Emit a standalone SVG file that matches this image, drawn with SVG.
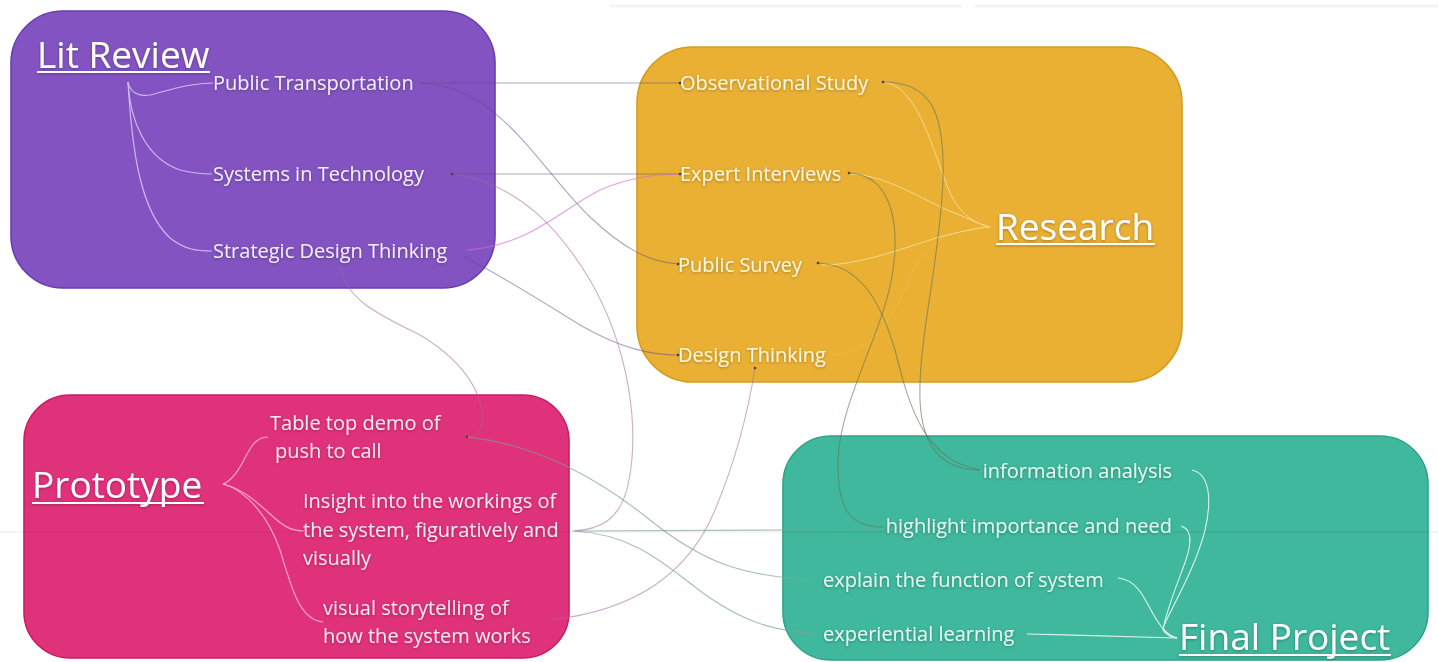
<svg xmlns="http://www.w3.org/2000/svg" width="1438" height="662" viewBox="0 0 1438 662">
  <defs>
    <filter id="glow" x="-10%" y="-40%" width="120%" height="180%">
      <feDropShadow dx="0" dy="1" stdDeviation="1.4" flood-color="#000" flood-opacity="0.3"/>
    </filter>
    <style>
      text { font-family: "Open Sans", "Noto Sans", "DejaVu Sans", sans-serif; }
      .title { font-size: 37px; fill: #ffffff; }
      .item { font-size: 20px; }
      .box { stroke-width: 1.6; }
      .ul { stroke: #ffffff; stroke-width: 2; }
      .lit-t { fill: #f4eefc; }
      .res-t { fill: #fff7de; }
      .pro-t { fill: #fde8f1; }
      .fin-t { fill: #e8f8f3; }
      .c { fill: none; stroke-width: 1.1; }
      .c-lit { stroke: #cfb8f3; stroke-width: 1.2; }
      .c-res { stroke: #f7da8e; stroke-width: 1; }
      .c-pro { stroke: #f8a5cb; stroke-width: 1.2; }
      .c-fin { stroke: #d8f4ea; stroke-width: 1.1; }
      .c-purple { stroke: #5e4b86; stroke-opacity: 0.5; }
      .c-magenta { stroke: #d96ad6; stroke-opacity: 0.65; }
      .c-mauve { stroke: #a06a9c; stroke-opacity: 0.55; }
      .c-sage { stroke: #7ea494; stroke-opacity: 0.7; }
      .c-olive { stroke: #5e7654; stroke-opacity: 0.6; }
      .dot { fill: #4f3f35; }
    </style>
  </defs>

  <rect width="1438" height="662" fill="#ffffff"/>
  <!-- faint page edge at the top -->
  <line x1="610" y1="6" x2="962" y2="6" stroke="#f5f5f5" stroke-width="3"/>
  <line x1="975" y1="6" x2="1438" y2="6" stroke="#f5f5f5" stroke-width="3"/>

  <!-- node boxes -->
  <g id="lit-review-box">
    <rect class="box" x="11" y="11" width="484" height="277" rx="52" fill="#8354c1" stroke="#6a3cb2"/>
  </g>
  <g id="research-box">
    <rect class="box" x="637" y="47" width="545" height="335" rx="56" fill="#e9b034" stroke="#d49d20"/>
  </g>
  <g id="prototype-box">
    <rect class="box" x="24" y="395" width="545" height="263" rx="46" fill="#e0327b" stroke="#c81d63"/>
  </g>
  <g id="final-project-box">
    <rect class="box" x="783" y="436" width="645" height="224" rx="48" fill="#3fb89d" stroke="#2fa487"/>
  </g>

  <!-- connectors -->
  <g id="connectors">
    <!-- Lit Review branches -->
    <path class="c c-lit" d="M128,82 C130,92 138,97 150,95 C170,90 190,83 213,83"/>
    <path class="c c-lit" d="M128,82 C130,120 145,158 180,170 C192,173 200,174 212,174"/>
    <path class="c c-lit" d="M128,82 C132,150 140,210 170,238 C185,250 198,251 212,251"/>

    <!-- Research branches -->
    <path class="c c-res" d="M883,82 C915,85 930,140 945,180 C955,210 970,222 990,227"/>
    <path class="c c-res" d="M850,174 C890,175 930,205 960,215 C975,222 985,226 990,227"/>
    <path class="c c-res" d="M822,265 C870,265 920,240 960,232 C975,229 985,227 990,227"/>
    <path class="c c-res" stroke-opacity="0.2" d="M833,355 C880,352 898,305 912,272 C930,235 965,228 990,227"/>

    <!-- Prototype branches -->
    <path class="c c-pro" d="M223,484 C238,478 245,455 252,446 C257,439 262,437 268,437"/>
    <path class="c c-pro" d="M223,484 C240,488 255,500 270,514 C282,525 290,531 304,531"/>
    <path class="c c-pro" d="M223,484 C245,490 268,515 280,550 C292,590 300,620 323,622"/>

    <!-- Final Project branches -->
    <path class="c c-fin" d="M1192,470 C1210,474 1212,500 1205,530 C1195,570 1170,610 1163,628 C1166,634 1170,637 1177,638"/>
    <path class="c c-fin" d="M1181,526 C1195,530 1190,550 1183,568 C1174,592 1166,612 1163,630 C1166,635 1171,637 1177,638"/>
    <path class="c c-fin" d="M1118,578 C1138,580 1145,600 1152,612 C1160,626 1166,635 1177,638"/>
    <path class="c c-fin" d="M1027,634 C1080,635 1140,637 1177,638"/>

    <!-- Lit Review to Research -->
    <path class="c c-purple" d="M420,83 C550,83 560,83 680,83"/>
    <path class="c c-purple" d="M420,83 C500,85 540,170 590,217 C625,250 650,262 678,264"/>
    <path class="c c-purple" d="M452,174 C560,174 580,174 680,174"/>
    <path class="c c-purple" d="M463,256 C500,275 540,300 580,325 C620,348 650,355 678,355"/>
    <path class="c c-magenta" d="M467,250 C530,245 560,210 600,190 C630,177 655,174 680,174"/>

    <!-- Lit Review to Prototype -->
    <path class="c c-mauve" d="M455,174 C520,185 560,230 590,280 C630,350 640,430 628,485 C620,520 600,530 572,531"/>
    <path class="c c-mauve" d="M340,265 C345,300 380,315 420,335 C470,365 485,400 482,425 C480,436 472,437 467,437"/>

    <!-- Prototype to Research -->
    <path class="c c-mauve" d="M550,620 C640,610 690,570 715,510 C740,450 750,400 755,368"/>

    <!-- Prototype to Final Project -->
    <path class="c c-sage" d="M467,437 C540,445 600,480 650,520 C700,560 740,578 823,580"/>
    <path class="c c-sage" stroke-opacity="0.45" d="M575,531 C700,531 780,530 884,529"/>
    <path class="c c-sage" d="M575,531 C640,535 670,570 710,598 C750,625 780,632 823,634"/>

    <!-- Research to Final Project -->
    <path class="c c-olive" d="M883,82 C930,82 945,110 943,180 C940,260 918,340 920,400 C922,450 945,470 980,470"/>
    <path class="c c-olive" d="M849,173 C890,175 900,220 893,270 C885,330 840,400 838,460 C837,510 850,527 883,527"/>
    <path class="c c-olive" d="M818,263 C860,265 880,300 895,350 C910,410 925,460 980,470"/>

    <!-- endpoint dots -->
    <circle class="dot" cx="680" cy="83" r="1.3"/>
    <circle class="dot" cx="680" cy="174" r="1.3"/>
    <circle class="dot" cx="678" cy="264" r="1.3"/>
    <circle class="dot" cx="678" cy="355" r="1.3"/>
    <circle class="dot" cx="883" cy="82" r="1.3"/>
    <circle class="dot" cx="849" cy="173" r="1.3"/>
    <circle class="dot" cx="818" cy="263" r="1.3"/>
    <circle class="dot" cx="755" cy="368" r="1.3"/>
    <circle class="dot" cx="452" cy="174" r="1.3"/>
    <circle class="dot" cx="467" cy="437" r="1.2"/>
  </g>

  <!-- faint page seam across the sheet -->
  <line x1="0" y1="532" x2="1438" y2="532" stroke="#000" stroke-opacity="0.08" stroke-width="1.2"/>

  <!-- node labels -->
  <g id="lit-review" filter="url(#glow)">
    <text class="title" x="37" y="68">Lit Review</text>
    <line class="ul" x1="37" y1="72" x2="210" y2="72"/>
    <text class="item lit-t" x="213" y="90">Public Transportation</text>
    <text class="item lit-t" x="213" y="181">Systems in Technology</text>
    <text class="item lit-t" x="213" y="258">Strategic Design Thinking</text>
  </g>

  <g id="research" filter="url(#glow)">
    <text class="title" x="996" y="240">Research</text>
    <line class="ul" x1="996" y1="244" x2="1155" y2="244"/>
    <text class="item res-t" x="680" y="90">Observational Study</text>
    <text class="item res-t" x="680" y="181">Expert Interviews</text>
    <text class="item res-t" x="678" y="272">Public Survey</text>
    <text class="item res-t" x="678" y="362">Design Thinking</text>
  </g>

  <g id="prototype" filter="url(#glow)">
    <text class="title" x="32" y="498">Prototype</text>
    <line class="ul" x1="32" y1="503" x2="204" y2="503"/>
    <text class="item pro-t" x="270" y="430">Table top demo of</text>
    <text class="item pro-t" x="275" y="458">push to call</text>
    <text class="item pro-t" x="303" y="508">Insight into the workings of</text>
    <text class="item pro-t" x="303" y="537">the system, figuratively and</text>
    <text class="item pro-t" x="303" y="565">visually</text>
    <text class="item pro-t" x="323" y="615">visual storytelling of</text>
    <text class="item pro-t" x="323" y="643">how the system works</text>
  </g>

  <g id="final-project" filter="url(#glow)">
    <text class="title" x="1179" y="650">Final Project</text>
    <line class="ul" x1="1179" y1="655" x2="1391" y2="655"/>
    <text class="item fin-t" x="1172" y="478" text-anchor="end">information analysis</text>
    <text class="item fin-t" x="1172" y="533" text-anchor="end">highlight importance and need</text>
    <text class="item fin-t" x="823" y="587">explain the function of system</text>
    <text class="item fin-t" x="823" y="641">experiential learning</text>
  </g>
</svg>
